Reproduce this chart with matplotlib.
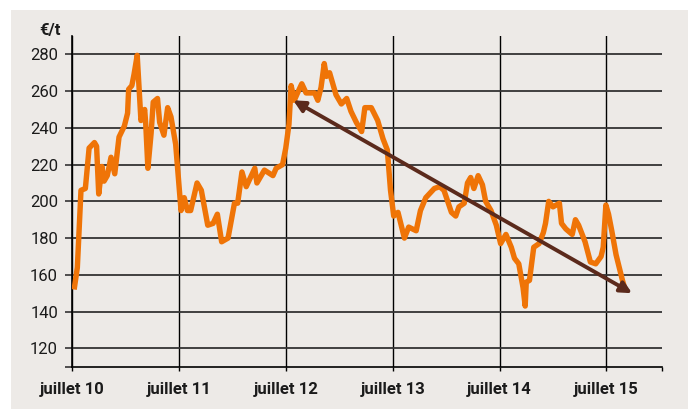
import matplotlib
matplotlib.use("Agg")
from matplotlib import pyplot as plt
from matplotlib.patches import Rectangle

# years since July 2010
years = [0.02, 0.05, 0.084, 0.125, 0.16, 0.21, 0.23, 0.25, 0.28, 0.30,
         0.33, 0.365, 0.40, 0.44, 0.49, 0.52, 0.53, 0.56, 0.58, 0.61,
         0.645, 0.68, 0.69, 0.71, 0.74, 0.76, 0.80, 0.82, 0.86, 0.895,
         0.926, 0.97, 1.02, 1.05, 1.08, 1.11, 1.17, 1.21, 1.27, 1.32,
         1.36, 1.40, 1.46, 1.52, 1.55, 1.59, 1.63, 1.71, 1.73, 1.80,
         1.88, 1.91, 1.97, 2.00, 2.03, 2.05, 2.08, 2.11, 2.15, 2.19,
         2.27, 2.30, 2.33, 2.36, 2.38, 2.41, 2.47, 2.52, 2.57, 2.61,
         2.66, 2.71, 2.74, 2.80, 2.86, 2.91, 2.95, 2.98, 3.01, 3.05,
         3.11, 3.15, 3.22, 3.26, 3.31, 3.39, 3.44, 3.48, 3.55, 3.59,
         3.62, 3.67, 3.70, 3.73, 3.76, 3.80, 3.84, 3.87, 3.92, 3.97,
         4.01, 4.06, 4.11, 4.14, 4.18, 4.22, 4.24, 4.25, 4.28, 4.32,
         4.37, 4.41, 4.43, 4.46, 4.50, 4.56, 4.58, 4.62, 4.68, 4.71,
         4.74, 4.80, 4.85, 4.90, 4.95, 4.97, 4.995, 5.02, 5.05, 5.09,
         5.12, 5.15, 5.18]
prices = [152, 164, 206, 207, 229, 232, 230, 204, 219, 211,
          214, 224, 215, 235, 241, 248, 261, 263, 269, 279.5,
          244, 250, 242, 218, 237, 254, 256, 243, 236, 251,
          246, 231, 195, 202, 195, 195, 210, 206, 187, 188,
          193, 178, 180, 199, 199, 216, 208, 218, 210, 217,
          214, 218, 220, 229, 242, 263, 255, 259, 264, 259,
          259, 255, 262, 275, 268, 270, 258, 253, 256, 249,
          243, 238, 251, 251, 244, 234, 228, 206, 192, 194,
          180, 186, 184, 195, 202, 207, 208, 206, 194, 192,
          197, 199, 210, 213, 207, 214, 209, 200, 195, 187,
          177, 182, 175, 169, 166, 153, 143, 156, 157, 175,
          177, 183, 188, 200, 197, 199, 188, 185, 182, 190,
          187, 178, 167, 166, 170, 175, 198, 193, 184, 171,
          164, 157, 151]

year_ticks = [0, 1, 2, 3, 4, 5]
year_labels = ["juillet 10", "juillet 11", "juillet 12", "juillet 13", "juillet 14", "juillet 15"]
price_ticks = [120, 140, 160, 180, 200, 220, 240, 260, 280]

# trend arrow ends (year, price)
trend_start = (2.07, 255)
trend_end = (5.24, 150)

BG = "#edeae7"
ORANGE = "#ef7407"
BROWN = "#5b2a1c"
INK = "#1b1b1b"

plt.rcParams["font.family"] = ["Roboto", "DejaVu Sans"]

fig = plt.figure(figsize=(6.88, 4.09), dpi=100, facecolor="white")
fig.patches.append(Rectangle((11 / 688, 0), 1, 1 - 10 / 409, transform=fig.transFigure,
                             facecolor=BG, edgecolor="none", zorder=-10))

ax = fig.add_axes([72 / 688, 1 - 366.7 / 409, 590 / 688, (366.7 - 36) / 409])
ax.set_facecolor(BG)

ax.plot(years, prices, color=ORANGE, lw=3.9, solid_joinstyle="round", solid_capstyle="butt", zorder=3)

ax.annotate("", xy=trend_end, xytext=trend_start,
            arrowprops=dict(arrowstyle="<|-|>", color=BROWN, lw=2.8, mutation_scale=17,
                            shrinkA=0, shrinkB=0), zorder=4)

ax.set_xlim(0, 5.52)
ax.set_ylim(110, 290)

ax.set_xticks(year_ticks)
ax.set_xticklabels(year_labels, fontsize=12, fontweight="bold", color=INK)
ax.set_xticks([5.52], minor=True)
ax.set_yticks(price_ticks)
ax.set_yticklabels([str(v) for v in price_ticks], fontsize=12, color=INK)
ax.set_yticks([110], minor=True)

ax.tick_params(axis="x", which="both", direction="out", length=3, width=1, color="black", pad=8)
ax.tick_params(axis="y", which="both", direction="out", length=5, width=1.2, color="#333333", pad=5)

ax.grid(axis="y", which="major", color="#333333", lw=1.3, zorder=1)
ax.grid(axis="x", which="major", color="black", lw=1.0, zorder=1)

for side in ("top", "right"):
    ax.spines[side].set_visible(False)
for side in ("left", "bottom"):
    ax.spines[side].set_color("black")
    ax.spines[side].set_linewidth(1.2)

fig.text(61 / 688, 1 - 30 / 409, "€/t", ha="right", va="center", fontsize=12,
         fontweight="bold", color=INK)

fig.savefig("out.png", dpi=100, facecolor=fig.get_facecolor())
